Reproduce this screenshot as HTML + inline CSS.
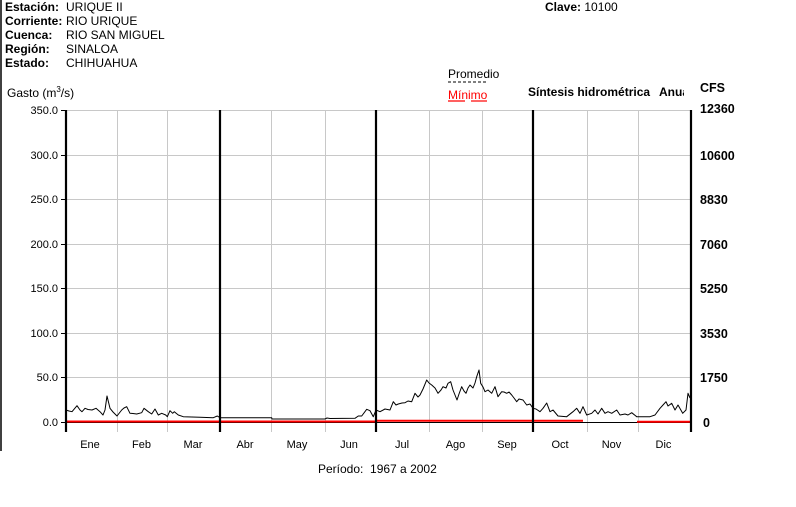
<!DOCTYPE html>
<html>
<head>
<meta charset="utf-8">
<style>
html,body{margin:0;padding:0;background:#fff;}
svg{display:block;font-family:"Liberation Sans",Arial,sans-serif;}
</style>
</head>
<body>
<svg width="796" height="507" viewBox="0 0 796 507" xmlns="http://www.w3.org/2000/svg">
<defs>
<clipPath id="clipT"><rect x="500" y="80" width="184" height="30"/></clipPath>
</defs>
<rect x="0" y="0" width="796" height="507" fill="#fff"/>
<!-- left border line -->
<line x1="1" y1="0" x2="1" y2="451" stroke="#000" stroke-width="1.5"/>

<!-- header -->
<g font-size="12" fill="#000">
<text x="5" y="11" font-weight="bold">Estación:</text><text x="66" y="11">URIQUE II</text>
<text x="5" y="25" font-weight="bold">Corriente:</text><text x="66" y="25">RIO URIQUE</text>
<text x="5" y="39" font-weight="bold">Cuenca:</text><text x="66" y="39">RIO SAN MIGUEL</text>
<text x="5" y="53" font-weight="bold">Región:</text><text x="66" y="53">SINALOA</text>
<text x="5" y="67" font-weight="bold">Estado:</text><text x="66" y="67">CHIHUAHUA</text>
<text x="545" y="11"><tspan font-weight="bold">Clave:</tspan> 10100</text>
<text x="7" y="97">Gasto (m<tspan font-size="8" dy="-5">3</tspan><tspan dy="5">/s)</tspan></text>
<text x="448" y="78">Promedio</text>
<text x="448" y="99" fill="#f00">Mínimo</text>
<g clip-path="url(#clipT)" font-weight="bold">
<text x="528" y="96">Síntesis hidrométrica</text>
<text x="659" y="96">Anual</text>
</g>
</g>
<line x1="448" y1="82" x2="487" y2="82" stroke="#000" stroke-width="1" stroke-dasharray="3,2"/>
<line x1="448" y1="101" x2="465" y2="101" stroke="#f00" stroke-width="1.2"/>
<line x1="471" y1="101" x2="487" y2="101" stroke="#f00" stroke-width="1.2"/>
<text x="700" y="92" font-size="12.5" font-weight="bold">CFS</text>

<!-- horizontal gridlines -->
<g stroke="#c8c8c8" stroke-width="1">
<line x1="66" y1="110.5" x2="691" y2="110.5"/>
<line x1="66" y1="155.5" x2="691" y2="155.5"/>
<line x1="66" y1="199.5" x2="691" y2="199.5"/>
<line x1="66" y1="244.5" x2="691" y2="244.5"/>
<line x1="66" y1="288.5" x2="691" y2="288.5"/>
<line x1="66" y1="333.5" x2="691" y2="333.5"/>
<line x1="66" y1="377.5" x2="691" y2="377.5"/>
</g>
<!-- vertical gray gridlines -->
<g stroke="#c8c8c8" stroke-width="1">
<line x1="117.5" y1="110" x2="117.5" y2="432"/>
<line x1="167.5" y1="110" x2="167.5" y2="432"/>
<line x1="271.5" y1="110" x2="271.5" y2="432"/>
<line x1="325.5" y1="110" x2="325.5" y2="432"/>
<line x1="429.5" y1="110" x2="429.5" y2="432"/>
<line x1="482.5" y1="110" x2="482.5" y2="432"/>
<line x1="587.5" y1="110" x2="587.5" y2="432"/>
<line x1="638.5" y1="110" x2="638.5" y2="432"/>
</g>
<!-- left ticks -->
<g stroke="#000" stroke-width="1">
<line x1="61" y1="110.5" x2="66" y2="110.5"/>
<line x1="61" y1="155.5" x2="66" y2="155.5"/>
<line x1="61" y1="199.5" x2="66" y2="199.5"/>
<line x1="61" y1="244.5" x2="66" y2="244.5"/>
<line x1="61" y1="288.5" x2="66" y2="288.5"/>
<line x1="61" y1="333.5" x2="66" y2="333.5"/>
<line x1="61" y1="377.5" x2="66" y2="377.5"/>
<line x1="61" y1="422.5" x2="66" y2="422.5"/>
</g>
<!-- zero axis -->
<line x1="66" y1="422.5" x2="691" y2="422.5" stroke="#000" stroke-width="1"/>
<!-- minimum series -->
<polyline fill="none" stroke="#f00" stroke-width="2" points="66,421.5 376,421.5 377,420.8 583,420.8"/>
<polyline fill="none" stroke="#f00" stroke-width="2" points="637,421.7 690,421.7"/>

<!-- thick vertical lines -->
<g stroke="#000" stroke-width="2.2">
<line x1="66" y1="110" x2="66" y2="432"/>
<line x1="220" y1="110" x2="220" y2="432"/>
<line x1="376" y1="110" x2="376" y2="432"/>
<line x1="533" y1="110" x2="533" y2="432"/>
<line x1="691" y1="110" x2="691" y2="432"/>
</g>

<!-- average series -->
<polyline fill="none" stroke="#000" stroke-width="1" stroke-linejoin="round" points="66,410 69,411 72,411.7 77,405.7 80,410 82,411.7 85,408.3 88,409.5 92,410 96,408.3 100,411.7 103,415 105,410 107,396 110,408.3 113,412 117,416 121.7,410 124,408 126.7,406.7 130,413.3 133,413.5 136.7,414 141.7,412.7 144,408.3 148.3,411.7 151.7,414 155,409 158.3,415 161.7,413.3 165.7,415 167.3,416.7 170,410.7 172.7,413.3 174.3,411.7 178.3,415 183.3,416.7 200,417.3 213.3,417.7 217.3,416 220,417.7 271.7,417.7 272,419 325,419 327,418 330,418.5 355,418.3 358.3,416 361.7,416 366.7,409.3 370,410.7 373.3,416.7 376,410 380,411.7 385,409 390,410 393.3,401.7 396,405 398.3,404 402,403 405,402.7 408,401 411.7,401.7 415,393.3 418,397 420,395 423,389 426.7,380 429,383 431.7,385 435,388 438,393.3 441,390 443,386.7 446,388 448,383.3 450.7,381.7 453,390 457,400 459,394 461.7,386.7 464,391 466,393.3 468,388 470,385 473,388 475,383 476.7,376.7 479,370 480.7,383.3 483,387 485,391.7 488,390 491.7,393.3 495,386.7 498,396.7 501.7,391.7 504,392 506.7,393.3 509,392 511.7,395 514,398 516.7,401.7 519,399 523,400 526.7,405 530,404 533,408.3 536,409 540,411.7 543,408.3 546.7,403 550,411.7 553,410 558,416 566.7,416.7 573,411.7 576.7,408.3 580,413.3 583,406.7 586.7,415 591.7,413.3 595,410 598,414 601.7,408.3 605,413.3 608,411.7 611.7,413.3 616.7,410 620,415 625,414 628,415 631.7,412.7 636.7,416.7 650,416.7 655,415 660,408.3 663,405 666,401.7 668,406 671.7,403.3 675,410 678,405 682.7,413.3 686,410 688,393.3 690,398"/>

<!-- left axis labels -->
<g font-size="11" text-anchor="end" fill="#000">
<text x="58" y="114">350.0</text>
<text x="58" y="159">300.0</text>
<text x="58" y="203">250.0</text>
<text x="58" y="248">200.0</text>
<text x="58" y="292">150.0</text>
<text x="58" y="337">100.0</text>
<text x="58" y="381">50.0</text>
<text x="58" y="426">0.0</text>
</g>
<!-- right axis labels -->
<g font-size="12.5" font-weight="bold" fill="#000">
<text x="700" y="113">12360</text>
<text x="700" y="160">10600</text>
<text x="700" y="204">8830</text>
<text x="700" y="249">7060</text>
<text x="700" y="293">5250</text>
<text x="700" y="338">3530</text>
<text x="700" y="382">1750</text>
<text x="703" y="427">0</text>
</g>
<!-- month labels -->
<g font-size="11" text-anchor="middle" fill="#000">
<text x="90" y="448">Ene</text>
<text x="141.5" y="448">Feb</text>
<text x="193" y="448">Mar</text>
<text x="245" y="448">Abr</text>
<text x="297" y="448">May</text>
<text x="349" y="448">Jun</text>
<text x="402" y="448">Jul</text>
<text x="455.5" y="448">Ago</text>
<text x="507" y="448">Sep</text>
<text x="560" y="448">Oct</text>
<text x="611.5" y="448">Nov</text>
<text x="663.5" y="448">Dic</text>
</g>
<text x="318" y="473" font-size="12" fill="#000" xml:space="preserve" style="white-space:pre">Período:  1967 a 2002</text>
</svg>
</body>
</html>
